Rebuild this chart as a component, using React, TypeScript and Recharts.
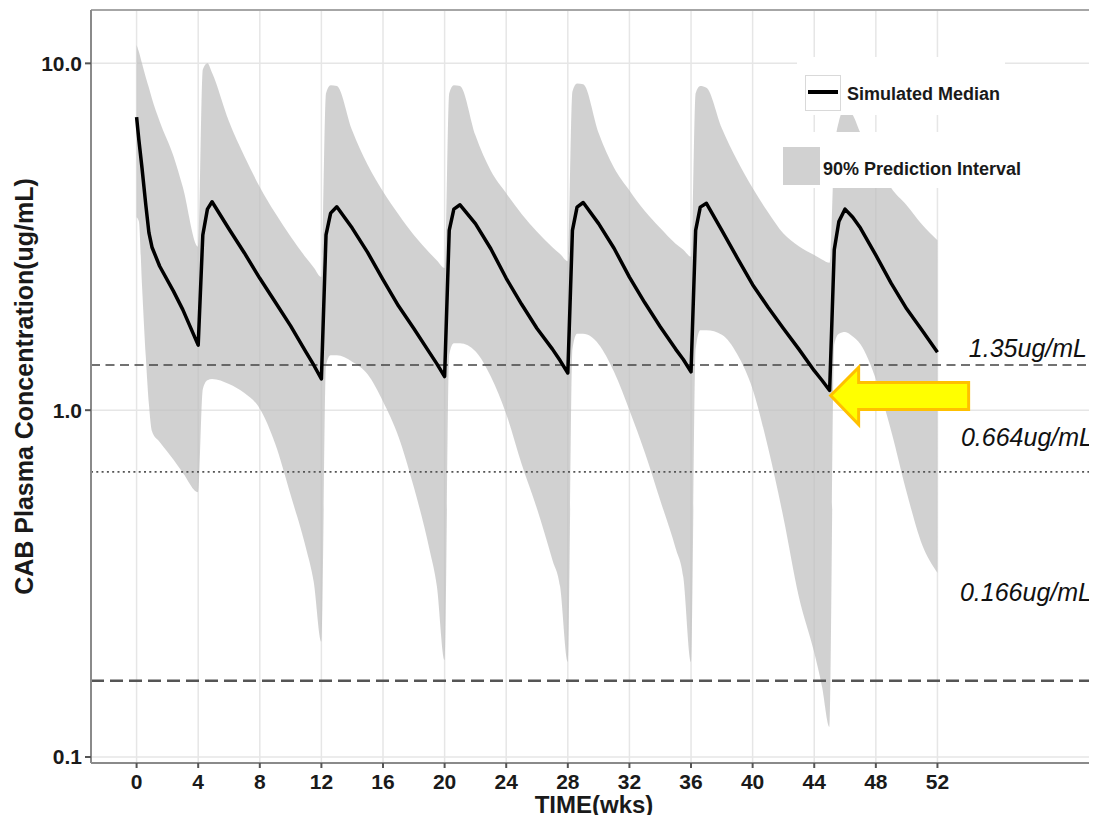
import {
  ComposedChart,
  Area,
  Line,
  XAxis,
  YAxis,
  CartesianGrid,
  ReferenceLine,
  ReferenceDot,
  Legend,
  Label,
} from 'recharts';

const FONT = 'Arial, "Liberation Sans", Helvetica, sans-serif';

// Sampling times (weeks), one row per dosing interval
const weeks = [
  0, 0.15, 0.35, 0.6, 0.8, 1, 1.5, 2.4, 3, 4,
  4.3, 4.6, 4.9, 6, 7, 8, 9, 10, 11, 11.5, 12,
  12.3, 12.6, 13, 14, 15, 16, 17, 18, 19, 19.5, 20,
  20.3, 20.6, 21, 22, 23, 24, 25, 26, 27, 27.5, 28,
  28.3, 28.6, 29, 30, 31, 32, 33, 34, 35, 35.5, 36,
  36.3, 36.6, 37, 38, 39, 40, 41, 42, 43, 44, 44.5, 45,
  45.3, 45.6, 46, 46.5, 47, 48, 49, 50, 51, 52,
];

// Simulated median concentration (ug/mL)
const median = [
  7.0, 6.0, 5.0, 3.9, 3.25, 2.95, 2.6, 2.2, 1.95, 1.54,
  3.2, 3.8, 3.99, 3.33, 2.84, 2.4, 2.05, 1.75, 1.47, 1.35, 1.23,
  3.2, 3.7, 3.86, 3.35, 2.85, 2.38, 2.0, 1.72, 1.47, 1.36, 1.25,
  3.3, 3.8, 3.91, 3.45, 2.92, 2.4, 2.02, 1.72, 1.5, 1.39, 1.28,
  3.3, 3.85, 3.97, 3.45, 2.93, 2.42, 2.04, 1.74, 1.5, 1.4, 1.29,
  3.3, 3.85, 3.95, 3.3, 2.75, 2.3, 1.98, 1.72, 1.5, 1.3, 1.22, 1.14,
  2.9, 3.5, 3.8, 3.6, 3.35, 2.8, 2.32, 1.96, 1.7, 1.47,
];

// 90% prediction interval, lower bound
const lower90 = [
  3.6, 3.5, 2.3, 1.42, 1.04, 0.87, 0.81, 0.72, 0.66, 0.58,
  1.15, 1.22, 1.23, 1.19, 1.12, 1.01, 0.8, 0.57, 0.4, 0.32, 0.215,
  1.35, 1.44, 1.44, 1.38, 1.27, 1.06, 0.84, 0.6, 0.4, 0.31, 0.19,
  1.45, 1.56, 1.56, 1.48, 1.25, 0.975, 0.7, 0.52, 0.37, 0.31, 0.188,
  1.5, 1.66, 1.66, 1.55, 1.29, 1.0, 0.755, 0.55, 0.4, 0.33, 0.188,
  1.5, 1.7, 1.7, 1.65, 1.45, 1.15, 0.78, 0.49, 0.29, 0.2, 0.16, 0.122,
  1.55, 1.66, 1.68, 1.63, 1.55, 1.23, 0.87, 0.58, 0.41, 0.34,
];

// 90% prediction interval, upper bound
const upper90 = [
  11.3, 10.8, 10.0, 9.1, 8.5, 7.9, 6.8, 5.4, 4.4, 2.96,
  9.6, 10.0, 9.4, 6.8, 5.4, 4.4, 3.7, 3.17, 2.75, 2.58, 2.42,
  8.2, 8.65, 8.6, 6.4, 5.1, 4.27, 3.67, 3.2, 2.85, 2.7, 2.57,
  8.2, 8.65, 8.6, 6.2, 4.9, 4.22, 3.68, 3.27, 2.95, 2.82, 2.69,
  8.3, 8.75, 8.7, 6.3, 5.0, 4.3, 3.75, 3.35, 3.02, 2.9, 2.77,
  8.2, 8.6, 8.5, 6.5, 5.25, 4.37, 3.72, 3.23, 2.97, 2.8, 2.72, 2.66,
  5.5, 6.8, 7.4, 7.1, 6.3, 5.3, 4.37, 3.9, 3.43, 3.09,
];

const weekTicks = [0, 4, 8, 12, 16, 20, 24, 28, 32, 36, 40, 44, 48, 52];
const concTicks = [0.1, 1, 10];

// Target concentration lines
const thresholdValues = [1.35, 0.664, 0.166];
const thresholdLabels = ['1.35ug/mL', '0.664ug/mL', '0.166ug/mL'];

const SERIES_MEDIAN = 'Simulated Median';
const SERIES_BAND = '90% Prediction Interval';

// week of the delayed dose that the arrow points at
const lateDoseWeek = 45;

const X_DOMAIN: [number, number] = [-2.96, 62.36];
const Y_DOMAIN: [number, number] = [0.0961, 14.25];
const BAND_FILL = '#bdbdbd';
const BAND_KEY = '#d1d1d1';

const chartData = weeks.map((week, i) => ({
  week,
  median: median[i],
  band: [lower90[i], upper90[i]],
}));

const thresholdStyles = [
  { stroke: '#444', strokeWidth: 1.5, dash: '9 5.5', rightPad: 10, dy: -8 },
  { stroke: '#555', strokeWidth: 1.6, dash: '2 3.3', rightPad: 4, dy: -26 },
  { stroke: '#555', strokeWidth: 2.5, dash: '13 6', rightPad: 5, dy: -80 },
];

const thresholdLabel = (text: string, rightPad: number, dy: number) => (props: any) => {
  const vb = props.viewBox || {};
  return (
    <text
      x={vb.x + vb.width - rightPad}
      y={vb.y + dy}
      textAnchor="end"
      fontSize={25}
      fontStyle="italic"
      fill="#111"
      fontFamily={FONT}
    >
      {text}
    </text>
  );
};

const YTitle = (props: any) => {
  const vb = props.viewBox || {};
  const cx = vb.x + 24;
  const cy = vb.y + vb.height / 2;
  return (
    <text
      x={cx}
      y={cy}
      transform={`rotate(-90 ${cx} ${cy})`}
      textAnchor="middle"
      dominantBaseline="central"
      fontSize={25}
      fontWeight={700}
      fill="#1a1a1a"
      fontFamily={FONT}
    >
      CAB Plasma Concentration(ug/mL)
    </text>
  );
};

const XTitle = (props: any) => {
  const vb = props.viewBox || {};
  return (
    <text
      x={vb.x + vb.width / 2}
      y={vb.y + 50}
      textAnchor="middle"
      fontSize={24}
      fontWeight={700}
      fill="#1a1a1a"
      fontFamily={FONT}
    >
      TIME(wks)
    </text>
  );
};

// Block arrow pointing left at the trough
const LateDoseArrow = (props: any) => {
  const { cx, cy } = props;
  if (cx == null || cy == null) return <g />;
  const x = cx + 1;
  const y = cy + 5;
  const shape = [
    [0, 0], [28, -28], [28, -13], [138, -13], [138, 14], [28, 14], [28, 29],
  ];
  const points = shape.map(([dx, dy]) => `${x + dx},${y + dy}`).join(' ');
  return <polygon points={points} fill="#ffff00" stroke="#ffc000" strokeWidth={3} />;
};

const LegendBox = () => (
  <svg width={250} height={135} style={{ display: 'block' }} fontFamily={FONT}>
    <rect x={17} y={0} width={208} height={58} fill="#fff" />
    <rect x={0} y={75} width={245} height={56} fill="#fff" />
    <rect x={25.5} y={18.5} width={35} height={35} fill="#fff" stroke="#d9d9d9" />
    <line x1={28} x2={58} y1={35} y2={35} stroke="#000" strokeWidth={4} />
    <text x={67} y={43} fontSize={18} fontWeight={700} fill="#1a1a1a">
      {SERIES_MEDIAN}
    </text>
    <rect x={3} y={90} width={37} height={38} fill={BAND_KEY} />
    <text x={43} y={118} fontSize={18} fontWeight={700} fill="#1a1a1a">
      {SERIES_BAND}
    </text>
  </svg>
);

export default function App() {
  const troughIdx = weeks.indexOf(lateDoseWeek);

  return (
    <div style={{ margin: '-8px 0 -8px -8px', width: 1097, height: 823, fontFamily: FONT, background: '#fff' }}>
      <ComposedChart
        width={1097}
        height={823}
        data={chartData}
        margin={{ top: 10, right: 0, bottom: 0, left: 0 }}
      >
        <CartesianGrid stroke="#e6e6e6" strokeWidth={1.5} />
        <XAxis
          type="number"
          dataKey="week"
          domain={X_DOMAIN}
          allowDataOverflow
          ticks={weekTicks}
          interval={0}
          height={60}
          axisLine={{ stroke: '#8a8a8a', strokeWidth: 2 }}
          tickLine={{ stroke: '#555', strokeWidth: 2 }}
          tickSize={5}
          tickMargin={6}
          tick={{ fontSize: 21, fontWeight: 700, fill: '#1a1a1a' }}
        >
          <Label content={<XTitle />} />
        </XAxis>
        <YAxis
          type="number"
          scale="log"
          domain={Y_DOMAIN}
          allowDataOverflow
          ticks={concTicks}
          interval={0}
          width={91}
          tickFormatter={(v: number) => v.toFixed(1)}
          axisLine={{ stroke: '#8a8a8a', strokeWidth: 2 }}
          tickLine={{ stroke: '#555', strokeWidth: 2 }}
          tickSize={6}
          tickMargin={3}
          tick={{ fontSize: 21, fontWeight: 700, fill: '#1a1a1a' }}
        >
          <Label content={<YTitle />} />
        </YAxis>

        <Area
          type="monotone"
          dataKey="band"
          name={SERIES_BAND}
          stroke="none"
          fill={BAND_FILL}
          fillOpacity={0.7}
          isAnimationActive={false}
          activeDot={false}
        />

        {/* panel top border */}
        <ReferenceLine y={Y_DOMAIN[1]} stroke="#a6a6a6" strokeWidth={2} />

        {thresholdValues.map((v, i) => (
          <ReferenceLine
            key={thresholdLabels[i]}
            y={v}
            stroke={thresholdStyles[i].stroke}
            strokeWidth={thresholdStyles[i].strokeWidth}
            strokeDasharray={thresholdStyles[i].dash}
            label={thresholdLabel(thresholdLabels[i], thresholdStyles[i].rightPad, thresholdStyles[i].dy)}
          />
        ))}

        <Line
          type="linear"
          dataKey="median"
          name={SERIES_MEDIAN}
          stroke="#000"
          strokeWidth={3.5}
          strokeLinejoin="round"
          dot={false}
          activeDot={false}
          isAnimationActive={false}
        />

        <ReferenceDot
          x={lateDoseWeek}
          y={median[troughIdx]}
          r={0}
          shape={LateDoseArrow}
        />

        <Legend
          layout="vertical"
          align="center"
          verticalAlign="middle"
          wrapperStyle={{ left: 780, top: 57, width: 250, height: 135 }}
          content={() => <LegendBox />}
        />
      </ComposedChart>
    </div>
  );
}
